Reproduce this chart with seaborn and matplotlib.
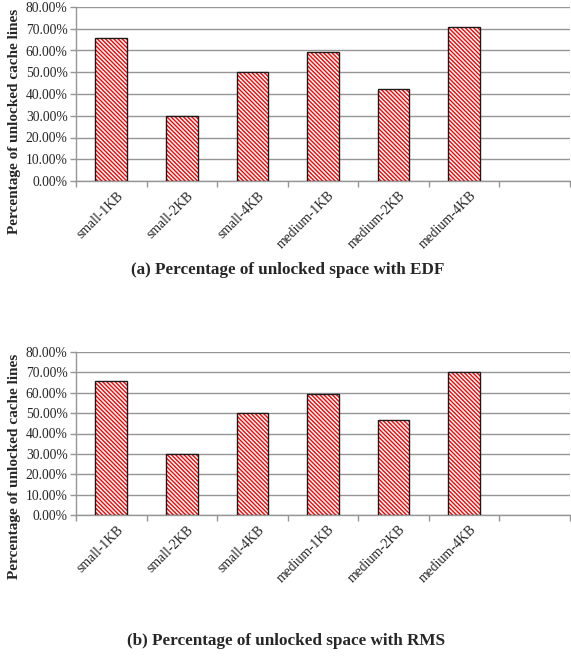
import matplotlib
matplotlib.use("Agg")
import matplotlib.pyplot as plt
import matplotlib.transforms as mtransforms
import seaborn as sns
import pandas as pd
from matplotlib.patches import Rectangle
from matplotlib.ticker import FuncFormatter, FixedLocator

# Benchmark configurations and unlocked-space percentages per scheduler
configs = ["small-1KB", "small-2KB", "small-4KB", "medium-1KB", "medium-2KB", "medium-4KB"]
edf_unlocked = [65.7, 29.9, 49.9, 59.4, 42.2, 70.9]
rms_unlocked = [65.6, 29.7, 49.9, 59.2, 46.8, 70.3]
y_ticks = [0, 10, 20, 30, 40, 50, 60, 70, 80]
ylabel = "Percentage of unlocked cache lines"
captions = ["(a) Percentage of unlocked space with EDF",
            "(b) Percentage of unlocked space with RMS"]

sns.set_theme(style="white")
plt.rcParams["font.family"] = ["Liberation Serif", "DejaVu Serif"]
plt.rcParams["hatch.linewidth"] = 1.0

W, H = 571, 658
fig = plt.figure(figsize=(W / 100, H / 100), dpi=100)


def px_axes(left, top, right, bottom):
    return fig.add_axes([left / W, 1 - bottom / H, (right - left) / W, (bottom - top) / H])


GRID = "#969696"
N_SLOTS = len(configs) + 1  # the category axis keeps one empty slot on the right


def draw_panel(ax, values, label_y):
    df = pd.DataFrame({"config": configs, "pct": values})
    sns.barplot(data=df, x="config", y="pct", order=configs, color="white",
                saturation=1, width=0.45, edgecolor="#ff0000", linewidth=0, ax=ax)
    for p in list(ax.patches):
        p.set_hatch("\\" * 8)
        ax.add_patch(Rectangle(p.get_xy(), p.get_width(), p.get_height(),
                               fill=False, edgecolor="#1a1a1a", linewidth=1.0, zorder=3))
    ax.set_xlim(-0.5, N_SLOTS - 0.5)
    ax.set_ylim(y_ticks[0], y_ticks[-1])
    ax.yaxis.set_major_locator(FixedLocator(y_ticks))
    ax.yaxis.set_major_formatter(FuncFormatter(lambda v, _: f"{v:.2f}%"))
    ax.yaxis.grid(True, color=GRID, linewidth=1.0)
    ax.set_axisbelow(True)
    for side in ("top", "right"):
        ax.spines[side].set_visible(False)
    for side in ("left", "bottom"):
        ax.spines[side].set_color(GRID)
        ax.spines[side].set_linewidth(1.0)
    ax.set_xticks([i - 0.5 for i in range(N_SLOTS + 1)], minor=True)
    ax.tick_params(axis="x", which="major", length=0, pad=6, labelsize=9.8)
    ax.tick_params(axis="x", which="minor", length=4, color=GRID, width=1.0, bottom=True)
    ax.tick_params(axis="y", which="major", length=4, color=GRID, width=1.0,
                   left=True, pad=2, labelsize=9.8)
    shift = mtransforms.ScaledTranslation(5 / 100, 0, fig.dpi_scale_trans)
    for t in ax.get_xticklabels():
        t.set_rotation(45)
        t.set_ha("right")
        t.set_va("top")
        t.set_rotation_mode("anchor")
        t.set_transform(t.get_transform() + shift)
    ax.set_xlabel("")
    ax.set_ylabel(ylabel, fontweight="bold", fontsize=11)
    ax.yaxis.set_label_coords(-0.112, label_y)


ax_top = px_axes(76, 7, 570, 181)
ax_bot = px_axes(76, 352, 570, 515)
draw_panel(ax_top, edf_unlocked, 0.34)
draw_panel(ax_bot, rms_unlocked, 0.30)

fig.text(288 / W, 1 - 270 / H, captions[0], ha="center", va="center",
         fontsize=12.3, fontweight="bold")
fig.text(286 / W, 1 - 641 / H, captions[1], ha="center", va="center",
         fontsize=12.3, fontweight="bold")

fig.savefig("out.png", dpi=100)
